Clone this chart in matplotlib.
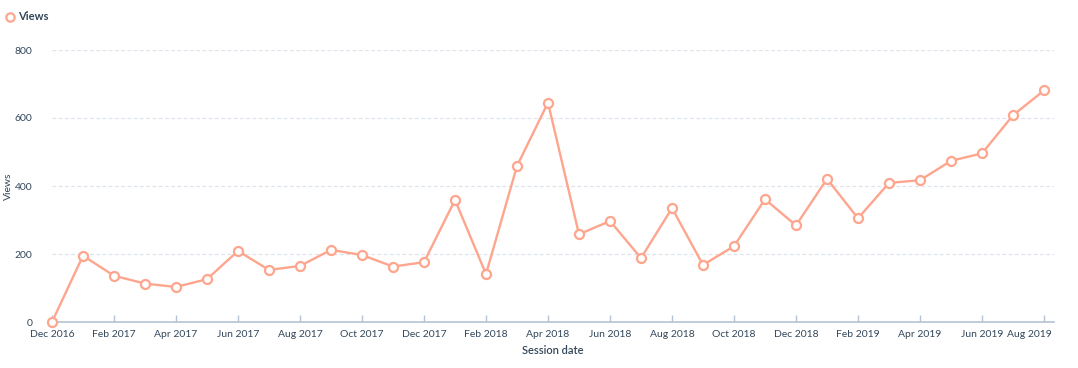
import matplotlib
matplotlib.use("Agg")
import matplotlib.pyplot as plt
import matplotlib.transforms as mtransforms
import numpy as np

months = ["Dec 2016", "Jan 2017", "Feb 2017", "Mar 2017", "Apr 2017", "May 2017", "Jun 2017",
          "Jul 2017", "Aug 2017", "Sep 2017", "Oct 2017", "Nov 2017", "Dec 2017",
          "Jan 2018", "Feb 2018", "Mar 2018", "Apr 2018", "May 2018", "Jun 2018",
          "Jul 2018", "Aug 2018", "Sep 2018", "Oct 2018", "Nov 2018", "Dec 2018",
          "Jan 2019", "Feb 2019", "Mar 2019", "Apr 2019", "May 2019", "Jun 2019",
          "Jul 2019", "Aug 2019"]
views = [0, 195, 136, 113, 103, 126, 209, 153, 165, 212, 197, 163, 176,
         359, 141, 459, 645, 258, 297, 188, 335, 168, 223, 361, 284,
         421, 305, 409, 417, 474, 496, 608, 681]
y_ticks = [0, 200, 400, 600, 800]

TEXT = "#33475b"
LINE = "#fea58e"
GRID = "#dfe3eb"
AXIS = "#b5c3d3"

plt.rcParams['font.family'] = ['Lato', 'DejaVu Sans']

fig = plt.figure(figsize=(10.78, 3.68), dpi=100)
W, H = 1078, 368
left, right, top, bottom = 52, 1054, 50, 322
ax = fig.add_axes([left / W, 1 - bottom / H, (right - left) / W, (bottom - top) / H])

x = np.arange(len(months))
ax.plot(x, views, color=LINE, lw=1.7, marker='o', ms=6.5, mfc='white', mec=LINE, mew=1.6,
        zorder=3, clip_on=False)

ax.set_xlim(0, (right - left) / 31.0)
ax.set_ylim(0, 800)
ax.set_yticks(y_ticks)
ax.set_yticklabels([str(v) for v in y_ticks])
ax.set_xticks(x[::2])
ax.set_xticklabels(months[::2])

ax.grid(axis='y', color=GRID, lw=0.9, ls=(0, (3, 2)))
ax.set_axisbelow(True)
for s in ['top', 'right', 'left']:
    ax.spines[s].set_visible(False)
ax.spines['bottom'].set_color(AXIS)
ax.spines['bottom'].set_linewidth(1.2)
ax.spines['bottom'].set_zorder(2)

ax.tick_params(axis='y', length=0, pad=14, labelsize=7.5, labelcolor=TEXT)
ax.tick_params(axis='x', length=5, direction='in', color=AXIS, width=1, pad=6,
               labelsize=7.5, labelcolor=TEXT)

# shift last tick label left so it stays inside the plot
lbls = ax.get_xticklabels()
off = mtransforms.ScaledTranslation(-15 / 100, 0, fig.dpi_scale_trans)
lbls[-1].set_transform(lbls[-1].get_transform() + off)

ax.set_xlabel("Session date", fontsize=8, color=TEXT, fontweight='semibold', labelpad=4)
ax.set_ylabel("Views", fontsize=7.5, color=TEXT)
ax.yaxis.set_label_coords(-39 / (right - left), 0.5)

# legend
fig.lines.append(plt.Line2D([10 / W], [1 - 17 / H], transform=fig.transFigure, marker='o',
                            ms=6, mfc='white', mec=LINE, mew=1.6, ls='none'))
fig.text(18 / W, 1 - 17 / H, "Views", fontsize=8, fontweight='bold', color=TEXT, va='center')

fig.savefig("out.png", dpi=100)
